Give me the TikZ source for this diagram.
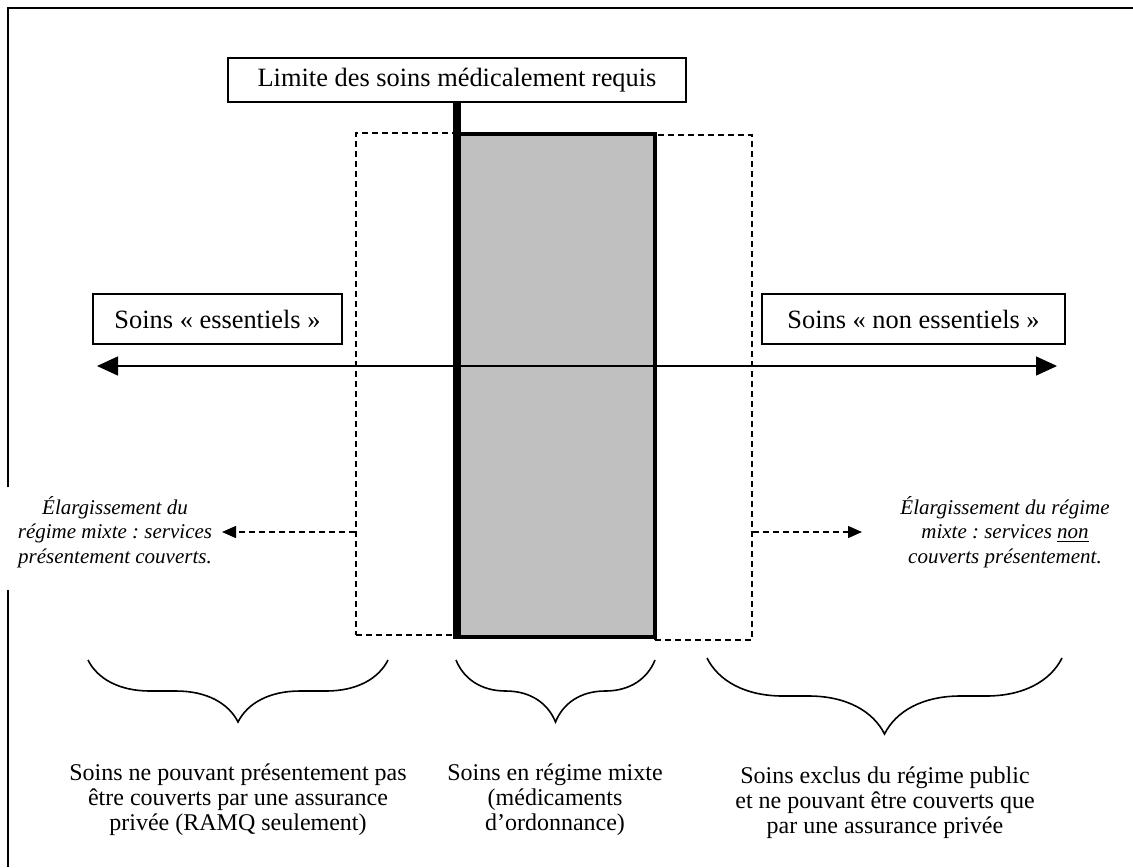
\documentclass[tikz,border=0pt]{standalone}
\usepackage{fontspec}
\setmainfont{Liberation Serif}
\usetikzlibrary{arrows.meta, positioning, decorations.pathreplacing}
\definecolor{mixtegray}{RGB}{192,192,192}
\frenchspacing
\tikzset{
  cadre/.style     = {draw=black, line width=1.2pt},
  etiquette/.style = {draw=black, line width=0.8pt, fill=white, inner sep=0pt,
                      align=center, font=\fontsize{13.2}{14}\selectfont},
  note/.style      = {align=center, inner sep=0pt,
                      font=\fontsize{10.5}{12.3}\selectfont\itshape},
  legende/.style   = {align=center, inner sep=0pt,
                      font=\fontsize{12}{12.5}\selectfont},
  zone/.style      = {draw=black, dash pattern=on 3pt off 2pt, line width=0.7pt, inner sep=0pt},
  axe/.style       = {{Triangle[length=10.5pt,width=9.5pt]}-{Triangle[length=10.5pt,width=9.5pt]},
                      line width=0.7pt},
  fleche/.style    = {-{Triangle[length=7pt,width=6pt]}, dash pattern=on 3pt off 2pt, line width=0.7pt},
  accolade/.style  = {decorate, decoration={brace, amplitude=#1}, line width=0.8pt},
}

\begin{document}
\begin{tikzpicture}[x=0.5pt, y=-0.5pt]
  \useasboundingbox (0,0) rectangle (1133,867);
  % cadre
  \draw[cadre] (8,487) -- (8,8) -- (1133,8);
  \draw[cadre] (8,590) -- (8,867);

  % zones pointillees et regime mixte
  \node[zone, minimum width=50pt, minimum height=251pt] (dashG) at (406,384) {};
  \node[zone, minimum width=48.5pt, minimum height=252.5pt] (dashD) at (703.5,387.5) {};
  \node[draw=black, fill=mixtegray, line width=1.7pt, inner sep=0pt,
        minimum width=98.5pt, minimum height=251.5pt] (mixte) at (556.5,385.5) {};

  % axe
  \coordinate (gauche) at (97,366);
  \coordinate (droite) at (1057,366);
  \draw[axe] (gauche) -- (droite);

  \node[etiquette, minimum width=229pt, minimum height=22pt] (limite) at (457,80)
    {Limite des soins médicalement requis};
  \draw[line width=4pt] (limite.south) -- (limite.south |- mixte.south);

  \node[etiquette, minimum width=124.5pt, minimum height=25pt] (essentiels) at (217.5,319)
    {Soins « essentiels »};
  \node[etiquette, minimum width=151.5pt, minimum height=25pt] (nonessentiels) at (913.5,319)
    {Soins « non essentiels »};

  % elargissement
  \node[note] (noteG) at (115,532)
    {Élargissement du\\régime mixte : services\\présentement couverts.};
  \node[note] (noteD) at (1005,532)
    {Élargissement du régime\\mixte : services \underline{non}\\couverts présentement.};
  \coordinate (pointeG) at (222,532);
  \coordinate (pointeD) at (862,532);
  \draw[fleche] (dashG.west |- pointeG) -- (pointeG);
  \draw[fleche] (dashD.east |- pointeD) -- (pointeD);

  % accolades
  \coordinate (accG1) at (88,660);
  \coordinate (accG2) at (388,660);
  \coordinate (accM1) at (456,660);
  \coordinate (accM2) at (655,660);
  \coordinate (accD1) at (707,658);
  \coordinate (accD2) at (1062,658);
  \draw[accolade=31pt] (accG2) -- (accG1);
  \draw[accolade=31pt] (accM2) -- (accM1);
  \draw[accolade=38pt] (accD2) -- (accD1);

  \node[legende] (legG) at (238,800)
    {Soins ne pouvant présentement pas\\être couverts par une assurance\\privée (RAMQ seulement)};
  \node[legende] (legM) at (555,800)
    {Soins en régime mixte\\(médicaments\\d’ordonnance)};
  \node[legende] (legD) at (885,803)
    {Soins exclus du régime public\\et ne pouvant être couverts que\\par une assurance privée};
\end{tikzpicture}
\end{document}
